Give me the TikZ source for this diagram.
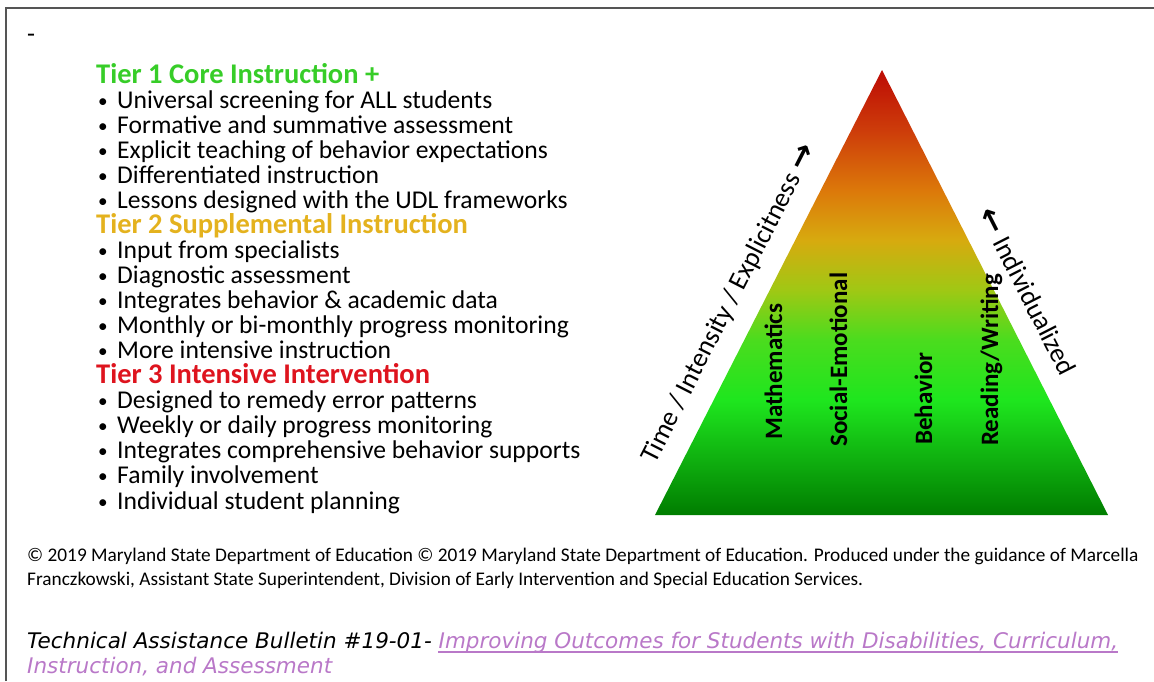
\documentclass[tikz,border=0pt]{standalone}
\usepackage{fontspec}
\setmainfont{Carlito}
\newfontfamily\bulletinfont{DejaVu Sans}
\newfontfamily\arrowfont{DejaVu Sans}
\usetikzlibrary{calc, positioning}
\definecolor{TierGreen}{RGB}{55,205,40}
\definecolor{TierGold}{RGB}{228,178,30}
\definecolor{TierRed}{RGB}{222,20,30}
\definecolor{FrameGray}{RGB}{85,85,85}
\definecolor{LinkPurple}{RGB}{185,120,200}
% pyramid colour stops, bottom to top
\definecolor{PyrA}{RGB}{0,125,0}
\definecolor{PyrB}{RGB}{15,175,15}
\definecolor{PyrC}{RGB}{30,230,30}
\definecolor{PyrD}{RGB}{75,220,30}
\definecolor{PyrE}{RGB}{160,200,20}
\definecolor{PyrF}{RGB}{215,170,15}
\definecolor{PyrG}{RGB}{220,120,10}
\definecolor{PyrH}{RGB}{205,60,10}
\definecolor{PyrI}{RGB}{190,15,5}
\pgfdeclareverticalshading{pyramidshade}{100bp}{color(0bp)=(PyrA); color(25bp)=(PyrA); color(31.2bp)=(PyrB); color(37.9bp)=(PyrC); color(44.7bp)=(PyrD); color(50.3bp)=(PyrE); color(55.9bp)=(PyrF); color(61.5bp)=(PyrG); color(68.3bp)=(PyrH); color(74.4bp)=(PyrI); color(100bp)=(PyrI)}
\newcommand{\tierbul}{\makebox[19pt][l]{\raisebox{1pt}{\scalebox{0.75}{•}}}}
\newcommand{\sidearrow}[1]{{\arrowfont\bfseries\fontsize{31}{31}\selectfont #1}}

\begin{document}
\begin{tikzpicture}[
    x=1pt, y=-1pt,
    tierhead/.style={anchor=base west, inner sep=0pt, font=\fontsize{28.5}{28}\selectfont\bfseries},
    tieritem/.style={anchor=base west, inner sep=0pt, font=\fontsize{25.6}{25}\selectfont},
    subject/.style={rotate=90, anchor=base west, inner sep=0pt, font=\fontsize{25}{25}\selectfont\bfseries},
    sidelabel/.style={anchor=south, inner sep=0pt, font=\fontsize{27}{27}\selectfont},
    footnote/.style={anchor=base west, inner sep=0pt, font=\fontsize{19.3}{20}\selectfont},
    bulletin/.style={anchor=base west, inner sep=0pt, font=\bulletinfont\itshape\fontsize{21.5}{22}\selectfont}
]
    \useasboundingbox (0,0) rectangle (1154,681);

    % === FRAME ===
    \draw[FrameGray, line width=2pt] (6,681) -- (6,8) -- (1154,8);
    \node[anchor=base west, inner sep=0pt, font=\fontsize{26}{26}\selectfont] (Dash) at (27,42) {-};

    % === TIER LISTS ===
    \def\lx{96}     % left edge of headings
    \def\bx{98}     % left edge of bullets
    \def\by{83}     % first baseline
    \def\lh{25.06}  % line pitch

    % Tier 1
    \node[tierhead, TierGreen] (TierOne) at (\lx, \by) {Tier 1 Core Instruction +};
    \node[tieritem] (OneA) at (\bx, \by+1*\lh) {\tierbul Universal screening for ALL students};
    \node[tieritem] (OneB) at (\bx, \by+2*\lh) {\tierbul Formative and summative assessment};
    \node[tieritem] (OneC) at (\bx, \by+3*\lh) {\tierbul Explicit teaching of behavior expectations};
    \node[tieritem] (OneD) at (\bx, \by+4*\lh) {\tierbul Differentiated instruction};
    \node[tieritem] (OneE) at (\bx, \by+5*\lh) {\tierbul Lessons designed with the UDL frameworks};

    % Tier 2
    \node[tierhead, TierGold] (TierTwo) at (\lx, \by+6*\lh) {Tier 2 Supplemental Instruction};
    \node[tieritem] (TwoA) at (\bx, \by+7*\lh) {\tierbul Input from specialists};
    \node[tieritem] (TwoB) at (\bx, \by+8*\lh) {\tierbul Diagnostic assessment};
    \node[tieritem] (TwoC) at (\bx, \by+9*\lh) {\tierbul Integrates behavior \& academic data};
    \node[tieritem] (TwoD) at (\bx, \by+10*\lh) {\tierbul Monthly or bi-monthly progress monitoring};
    \node[tieritem] (TwoE) at (\bx, \by+11*\lh) {\tierbul More intensive instruction};

    % Tier 3
    \node[tierhead, TierRed] (TierThree) at (\lx, \by+12*\lh) {Tier 3 Intensive Intervention};
    \node[tieritem] (ThreeA) at (\bx, \by+13*\lh) {\tierbul Designed to remedy error patterns};
    \node[tieritem] (ThreeB) at (\bx, \by+14*\lh) {\tierbul Weekly or daily progress monitoring};
    \node[tieritem] (ThreeC) at (\bx, \by+15*\lh) {\tierbul Integrates comprehensive behavior supports};
    \node[tieritem] (ThreeD) at (\bx, \by+16*\lh) {\tierbul Family involvement};
    \node[tieritem] (ThreeE) at (\bx, \by+17*\lh) {\tierbul Individual student planning};

    % === PYRAMID ===
    \coordinate (PyrTop) at (882,70);
    \coordinate (PyrBL) at (655,515);
    \coordinate (PyrBR) at (1108,515);
    \shade[shading=pyramidshade] (PyrBL) -- (PyrTop) -- (PyrBR) -- cycle;

    % Subject areas inside the pyramid
    \node[subject] (Math) at (782,440) {Mathematics};
    \node[subject] (Social) at (847,447) {Social-Emotional};
    \node[subject] (Behav) at (932,445) {Behavior};
    \node[subject] (Reading) at (998,446) {Reading/Writing};

    % Labels along the sides
    \coordinate (LeftMid) at ($(PyrBL)!0.444!(PyrTop)$);
    \coordinate (RightMid) at ($(PyrTop)!0.527!(PyrBR)$);
    \node[sidelabel, rotate=63] (Intensity) at ($(LeftMid)!18pt!90:(PyrTop)$)
        {Time / Intensity / Explicitness \sidearrow{→}};
    \node[sidelabel, rotate=-63] (Indiv) at ($(RightMid)!20pt!-90:(PyrTop)$)
        {\sidearrow{←} Individualized};

    % === FOOTNOTES ===
    \node[footnote] (CopyOne) at (27,561) {© 2019 Maryland State Department of Education © 2019 Maryland State Department of Education. Produced under the guidance of Marcella};
    \node[footnote] (CopyTwo) at (27,585) {Franczkowski, Assistant State Superintendent, Division of Early Intervention and Special Education Services.};

    \node[bulletin] (Bulletin) at (27,648) {Technical Assistance Bulletin \#19-01-\hspace{0.3em}\mbox{}};
    \node[bulletin, LinkPurple] (LinkOne) at (Bulletin.base east) {Improving Outcomes for Students with Disabilities, Curriculum,};
    \node[bulletin, LinkPurple] (LinkTwo) at (27,673) {Instruction, and Assessment};
    \draw[LinkPurple, line width=1.2pt] ($(LinkOne.base west)+(0,4)$) -- ($(LinkOne.base east)+(0,4)$);
\end{tikzpicture}
\end{document}
